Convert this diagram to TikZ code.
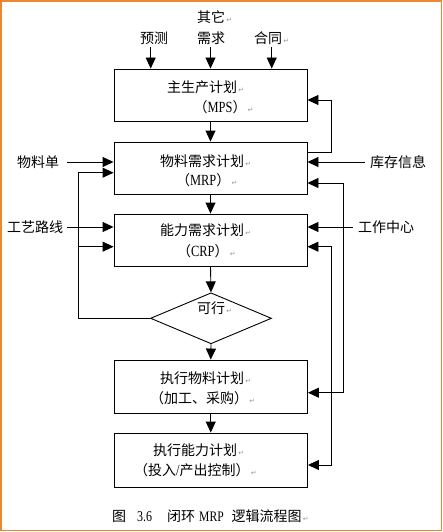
\documentclass[tikz,border=0pt]{standalone}
\usepackage{fontspec}
\setmainfont{Liberation Serif}
\newfontfamily\cjk{Noto Sans CJK SC}
\newfontfamily\djv{DejaVu Sans}
\newfontfamily\latn[FakeStretch=0.8]{Liberation Serif}
\usetikzlibrary{arrows.meta,shapes.geometric}
\definecolor{frameor}{RGB}{236,135,45}
\newcommand{\parmk}{{\djv\fontsize{7}{7}\selectfont\color{black!40}\,↵}}
\newcommand{\lat}[1]{{\latn\fontsize{15.5}{15.5}\selectfont #1}}
\begin{document}
\begin{tikzpicture}[x=1pt,y=-1pt,
  box/.style={draw, line width=0.9pt, minimum width=193pt, minimum height=52pt, inner sep=0pt},
  txt/.style={inner sep=0pt, anchor=west, font=\cjk\fontsize{14}{14}\selectfont},
  arr/.style={line width=0.9pt, -{Triangle[length=11pt,width=10pt]}},
  arrb/.style={line width=0.9pt, {Triangle[length=11pt,width=10pt]}-{Triangle[length=11pt,width=10pt]}}]
\useasboundingbox (0,0) rectangle (443,532);
\fill[white] (0,0) rectangle (443,532);
\draw[frameor, line width=1.5pt] (1,1) rectangle (441.5,530.5);

% boxes
\node[box] (mps) at (210.5,95) {};
\node[box] (mrp) at (210.5,168) {};
\node[box] (crp) at (210.5,240) {};
\node[draw, line width=0.9pt, diamond, minimum width=121pt, minimum height=51pt, inner sep=0pt] (dia) at (211,318.3) {};
\node[box, minimum width=193.5pt, minimum height=53pt] (exm) at (210.75,386.5) {};
\node[box, minimum width=193.5pt, minimum height=54pt] (exc) at (210.75,460) {};

% box texts
\node[txt] (t1a) at (167,87) {主生产计划\parmk};
\node[txt] (t1b) at (193.5,107) {（\lat{MPS}）\parmk};
\node[txt] (t2a) at (160,161) {物料需求计划\parmk};
\node[txt] (t2b) at (176,180) {（\lat{MRP}）\parmk};
\node[txt] (t3a) at (160,230) {能力需求计划\parmk};
\node[txt] (t3b) at (177,250.7) {（\lat{CRP}）\parmk};
\node[txt] (t4) at (197,307.7) {可行\parmk};
\node[txt] (t5a) at (160,378) {执行物料计划\parmk};
\node[txt] (t5b) at (150,398) {（加工、采购）\parmk};
\node[txt] (t6a) at (153,450) {执行能力计划\parmk};
\node[txt] (t6b) at (134,470) {（投入\lat{/}产出控制）\parmk};

% outside labels
\node[txt, align=left, font=\cjk\fontsize{14}{21}\selectfont] (qt) at (197,27.5) {其它\parmk\\需求};
\node[txt] (yc) at (140,38) {预测};
\node[txt] (ht) at (254,38) {合同\parmk};
\node[txt] (wld) at (17,162) {物料单};
\node[txt] (gy) at (7,227) {工艺路线};
\node[txt] (kc) at (370,162) {库存信息};
\node[txt] (gz) at (358,227) {工作中心};

% caption
\node[txt] (cap) at (112,515.7) {图\hspace{11pt}{\latn\fontsize{15}{15}\selectfont 3.6}\hspace{15pt}闭环\hspace{4pt}{\latn\fontsize{14.5}{14.5}\selectfont MRP}\hspace{8pt}逻辑流程图\parmk};

% top inputs
\draw[arr] ([yshift=-9pt]yc.center -| 150.7,0) -- (150.7,0 |- mps.north);
\draw[arr] (mps.north |- 0,47) -- (mps.north);
\draw[arr] (ht.south |- 0,47) -- (ht.south |- mps.north);

% main flow
\draw[arr] (mps.south) -- (mrp.north);
\draw[arr] (mrp.south) -- (crp.north);
\draw[arr] (crp.south) -- (dia.north);
\draw[arr] (dia.south) -- (exm.north);
\draw[arr] (exm.south) -- (exc.north);

% side inputs
\draw[arr] ([xshift=8pt]wld.east) -- (wld.east -| mrp.west);
\draw[arr] ([xshift=-5pt]kc.west) -- (kc.west -| mrp.east);
\draw[arr] ([xshift=4pt]gy.east) -- (gy.east -| crp.west);
\draw[arr] ([xshift=-5pt]gz.west) -- (gz.west -| crp.east);

% feedback MRP -> MPS
\coordinate (fb1) at (331.7,152);
\coordinate (fb2) at (331.7,100);
\draw[arr] (fb1 -| mrp.east) -- (fb1) -- (fb2) -- (fb2 -| mps.east);

% right loops
\coordinate (r2t) at (343,183);
\coordinate (r2b) at (343,392.7);
\draw[arrb] (r2t -| mrp.east) -- (r2t) -- (r2b) -- (r2b -| exm.east);
\coordinate (r3t) at (331.7,246.7);
\coordinate (r3b) at (331.7,465);
\draw[arrb] (r3t -| crp.east) -- (r3t) -- (r3b) -- (r3b -| exc.east);

% left loop from diamond
\coordinate (l1) at (78,318.3);
\coordinate (l2) at (78,172.7);
\coordinate (l3) at (78,246.7);
\draw[arr] (dia.west) -- (l1) -- (l2) -- (l2 -| mrp.west);
\draw[arr] (l3) -- (l3 -| crp.west);
\end{tikzpicture}
\end{document}
